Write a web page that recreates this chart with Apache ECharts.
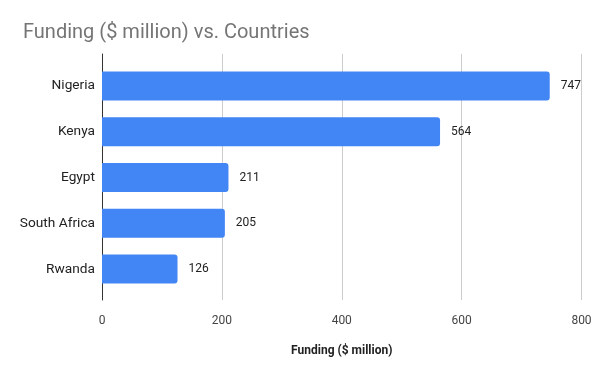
<!DOCTYPE html>
<html><head><meta charset="utf-8">
<script src="https://cdn.jsdelivr.net/npm/echarts@6/dist/echarts.min.js"></script>
<style>html,body{margin:0;padding:0;background:#fff}#c{width:600px;height:371px}</style>
</head><body><div id="c"></div>
<script>
var categories = ["Nigeria", "Kenya", "Egypt", "South Africa", "Rwanda"];
var funding = [747, 564, 211, 205, 126];
var xTicks = [0, 200, 400, 600, 800];
var titleText = "Funding ($ million) vs. Countries";
var xAxisTitle = "Funding ($ million)";

var chart = echarts.init(document.getElementById('c'));
var F = 'Roboto, Arial, sans-serif';
chart.setOption({
  animation: false,
  title: {text: titleText, left: 18, top: 18, textStyle: {fontFamily: F, fontSize: 20, fontWeight: 'normal', color: '#757575'}},
  grid: [
    {left: 102, right: 18.5, top: 54, bottom: 71},
    {left: 102, right: 18.5, top: 63, bottom: 79}
  ],
  xAxis: [
    {gridIndex: 0, type: 'value', min: xTicks[0], max: xTicks[xTicks.length-1], interval: 200,
     axisLine: {show: false}, axisTick: {show: false},
     splitLine: {show: true, lineStyle: {color: '#cccccc', width: 1}},
     axisLabel: {fontFamily: F, fontSize: 12, color: '#444', margin: 15},
     name: xAxisTitle, nameLocation: 'middle', nameGap: 45,
     nameTextStyle: {fontFamily: F, fontSize: 12, fontWeight: 'bold', color: '#222'}},
    {gridIndex: 1, type: 'value', min: xTicks[0], max: xTicks[xTicks.length-1], interval: 200, show: false}
  ],
  yAxis: [
    {gridIndex: 0, type: 'value', min: 0, max: 1, axisLine: {show: true, lineStyle: {color: '#333', width: 1}},
     axisTick: {show: false}, axisLabel: {show: false}, splitLine: {show: false}},
    {gridIndex: 1, type: 'category', data: categories, inverse: true,
     axisLine: {show: false}, axisTick: {show: false}, splitLine: {show: false},
     axisLabel: {fontFamily: F, fontSize: 13.7, color: '#222', margin: 7}}
  ],
  series: [{
    type: 'bar', xAxisIndex: 1, yAxisIndex: 1, data: funding, barWidth: 29,
    itemStyle: {color: '#4285F4', borderRadius: [0, 3, 3, 0]},
    label: {show: true, position: 'right', distance: 11, fontFamily: F, fontSize: 12, color: '#222'}
  }]
});
</script></body></html>
